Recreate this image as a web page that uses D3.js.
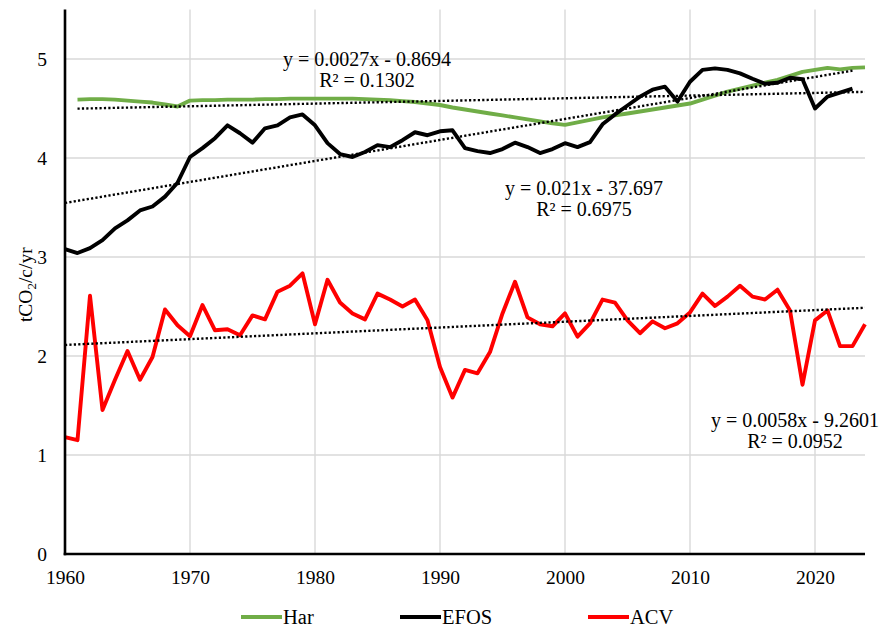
<!DOCTYPE html>
<html>
<head>
<meta charset="utf-8">
<script src="https://cdn.jsdelivr.net/npm/d3@7"></script>
<style>
  html, body { margin: 0; padding: 0; background: #fff; }
  svg { display: block; font-family: "Liberation Serif", "Times New Roman", serif; }
</style>
</head>
<body>
<svg id="chart" width="892" height="629"></svg>
<script>
// Series: tCO2 per capita per year
const harYears = d3.range(1961, 2025);
const harValues = [
  4.59, 4.595, 4.595, 4.59, 4.58, 4.57, 4.56, 4.54, 4.52,
  4.58, 4.585, 4.585, 4.59, 4.59, 4.59, 4.595, 4.595, 4.60, 4.60,
  4.60, 4.60, 4.60, 4.60, 4.595, 4.59, 4.585, 4.575, 4.565, 4.55,
  4.535, 4.51, 4.49, 4.47, 4.45, 4.43, 4.41, 4.39, 4.37, 4.35,
  4.335, 4.36, 4.385, 4.41, 4.43, 4.45, 4.47, 4.49, 4.51, 4.53,
  4.55, 4.59, 4.63, 4.67, 4.70, 4.73, 4.76, 4.79, 4.83, 4.87,
  4.89, 4.91, 4.895, 4.91, 4.915
];

const efosYears = d3.range(1960, 2024);
const efosValues = [
  3.08, 3.04, 3.09, 3.17, 3.29, 3.37, 3.47, 3.51, 3.61, 3.75,
  4.01, 4.10, 4.20, 4.33, 4.25, 4.155, 4.30, 4.33, 4.41, 4.44,
  4.33, 4.15, 4.04, 4.01, 4.06, 4.13, 4.11, 4.18, 4.26, 4.23,
  4.27, 4.28, 4.10, 4.07, 4.05, 4.09, 4.155, 4.11, 4.05, 4.09,
  4.15, 4.11, 4.16, 4.34, 4.44, 4.53, 4.62, 4.69, 4.72, 4.57,
  4.77, 4.89, 4.905, 4.89, 4.855, 4.80, 4.75, 4.76, 4.81, 4.795,
  4.50, 4.62, 4.66, 4.70
];

const acvYears = d3.range(1960, 2025);
const acvValues = [
  1.18, 1.15, 2.61, 1.455, 1.76, 2.05, 1.76, 1.99, 2.47, 2.31,
  2.20, 2.515, 2.26, 2.27, 2.21, 2.41, 2.37, 2.65, 2.71, 2.835,
  2.32, 2.77, 2.54, 2.43, 2.37, 2.63, 2.57, 2.50, 2.57, 2.36,
  1.89, 1.58, 1.86, 1.825, 2.04, 2.43, 2.75, 2.39, 2.32, 2.30,
  2.43, 2.195, 2.33, 2.57, 2.54, 2.36, 2.23, 2.35, 2.28, 2.33,
  2.44, 2.63, 2.505, 2.60, 2.71, 2.60, 2.57, 2.67, 2.46, 1.71,
  2.36, 2.46, 2.10, 2.10, 2.32
];

const seriesNames = ["Har", "EFOS", "ACV"];
const seriesColors = ["#70AD47", "#000000", "#FF0000"];
const trendLabels = [
  ["y = 0.0027x - 0.8694", "R² = 0.1302"],
  ["y = 0.021x - 37.697", "R² = 0.6975"],
  ["y = 0.0058x - 9.2601", "R² = 0.0952"]
];
const xTicks = [1960, 1970, 1980, 1990, 2000, 2010, 2020];
const yTicks = [0, 1, 2, 3, 4, 5];

const series = [
  { name: seriesNames[0], color: seriesColors[0], years: harYears, values: harValues },
  { name: seriesNames[1], color: seriesColors[1], years: efosYears, values: efosValues },
  { name: seriesNames[2], color: seriesColors[2], years: acvYears, values: acvValues }
];

const svg = d3.select("#chart");
const x = d3.scaleLinear().domain([1960, 2024]).range([65, 865]);
const y = d3.scaleLinear().domain([0, 5.5]).range([554, 9.5]);

// Gridlines
svg.append("g").selectAll("line.h").data(yTicks.filter(d => d > 0)).join("line")
  .attr("x1", x(1960)).attr("x2", x(2024))
  .attr("y1", d => y(d)).attr("y2", d => y(d))
  .attr("stroke", "#d9d9d9").attr("stroke-width", 1.4);
svg.append("g").selectAll("line.v").data(xTicks.filter(d => d > 1960)).join("line")
  .attr("x1", d => x(d)).attr("x2", d => x(d))
  .attr("y1", y(5.5)).attr("y2", y(0))
  .attr("stroke", "#d9d9d9").attr("stroke-width", 1.4);

// Linear least-squares fit for each series
function fit(xs, ys) {
  const mx = d3.mean(xs), my = d3.mean(ys);
  let sxy = 0, sxx = 0;
  xs.forEach((v, i) => { sxy += (v - mx) * (ys[i] - my); sxx += (v - mx) * (v - mx); });
  const b = sxy / sxx;
  return { slope: b, intercept: my - b * mx };
}

const line = d3.line().x(d => x(d[0])).y(d => y(d[1]));

// Data lines
series.forEach(s => {
  svg.append("path")
    .datum(s.years.map((yr, i) => [yr, s.values[i]]))
    .attr("fill", "none")
    .attr("stroke", s.color)
    .attr("stroke-width", 3.9)
    .attr("stroke-linejoin", "round")
    .attr("d", line);
});

// Dotted trend lines
series.forEach(s => {
  const f = fit(s.years, s.values);
  const x0 = s.years[0], x1 = s.years[s.years.length - 1];
  svg.append("path")
    .datum([[x0, f.slope * x0 + f.intercept], [x1, f.slope * x1 + f.intercept]])
    .attr("fill", "none")
    .attr("stroke", "#000")
    .attr("stroke-width", 2.4)
    .attr("stroke-dasharray", "2.2 2.2")
    .attr("d", line);
});

// Axes
const yAxis = svg.append("g").attr("transform", `translate(${x(1960)},0)`)
  .call(d3.axisLeft(y).tickValues(yTicks).tickSize(0).tickPadding(18).tickFormat(d3.format("d")));
const xAxis = svg.append("g").attr("transform", `translate(0,${y(0)})`)
  .call(d3.axisBottom(x).tickValues(xTicks).tickSize(0).tickPadding(16).tickFormat(d3.format("d")));
[yAxis, xAxis].forEach(a => {
  a.select(".domain").attr("stroke", "#000").attr("stroke-width", 2.6);
  a.selectAll("text").attr("font-family", "Liberation Serif").attr("font-size", 19.5).attr("fill", "#000");
});
yAxis.select(".domain").attr("d", `M0,${y(5.5)}V${y(0) + 1.3}`);
xAxis.select(".domain").attr("d", `M${x(1960) - 1.3},0H${x(2024)}`);

// Y axis title
const yt = svg.append("text")
  .attr("transform", `translate(32,${y(2.72)}) rotate(-90)`)
  .attr("text-anchor", "middle")
  .attr("font-size", 19.5);
yt.append("tspan").text("tCO");
yt.append("tspan").attr("font-size", 13).attr("dy", 4).text("2");
yt.append("tspan").attr("dy", -4).text("/c/yr");

// Trend equation labels
const labelPos = [[367, 66], [584, 195], [795, 427]];
trendLabels.forEach((lbl, i) => {
  const g = svg.append("text").attr("text-anchor", "middle").attr("font-size", 20).attr("fill", "#000");
  g.append("tspan").attr("x", labelPos[i][0]).attr("y", labelPos[i][1]).text(lbl[0]);
  g.append("tspan").attr("x", labelPos[i][0]).attr("y", labelPos[i][1] + 21).text(lbl[1]);
});

// Legend
const legendX = [241, 400, 588];
series.forEach((s, i) => {
  svg.append("line")
    .attr("x1", legendX[i]).attr("x2", legendX[i] + 41)
    .attr("y1", 617).attr("y2", 617)
    .attr("stroke", s.color).attr("stroke-width", 4);
  svg.append("text")
    .attr("x", legendX[i] + 42).attr("y", 624)
    .attr("font-size", 20.5).text(s.name);
});
</script>
</body>
</html>
